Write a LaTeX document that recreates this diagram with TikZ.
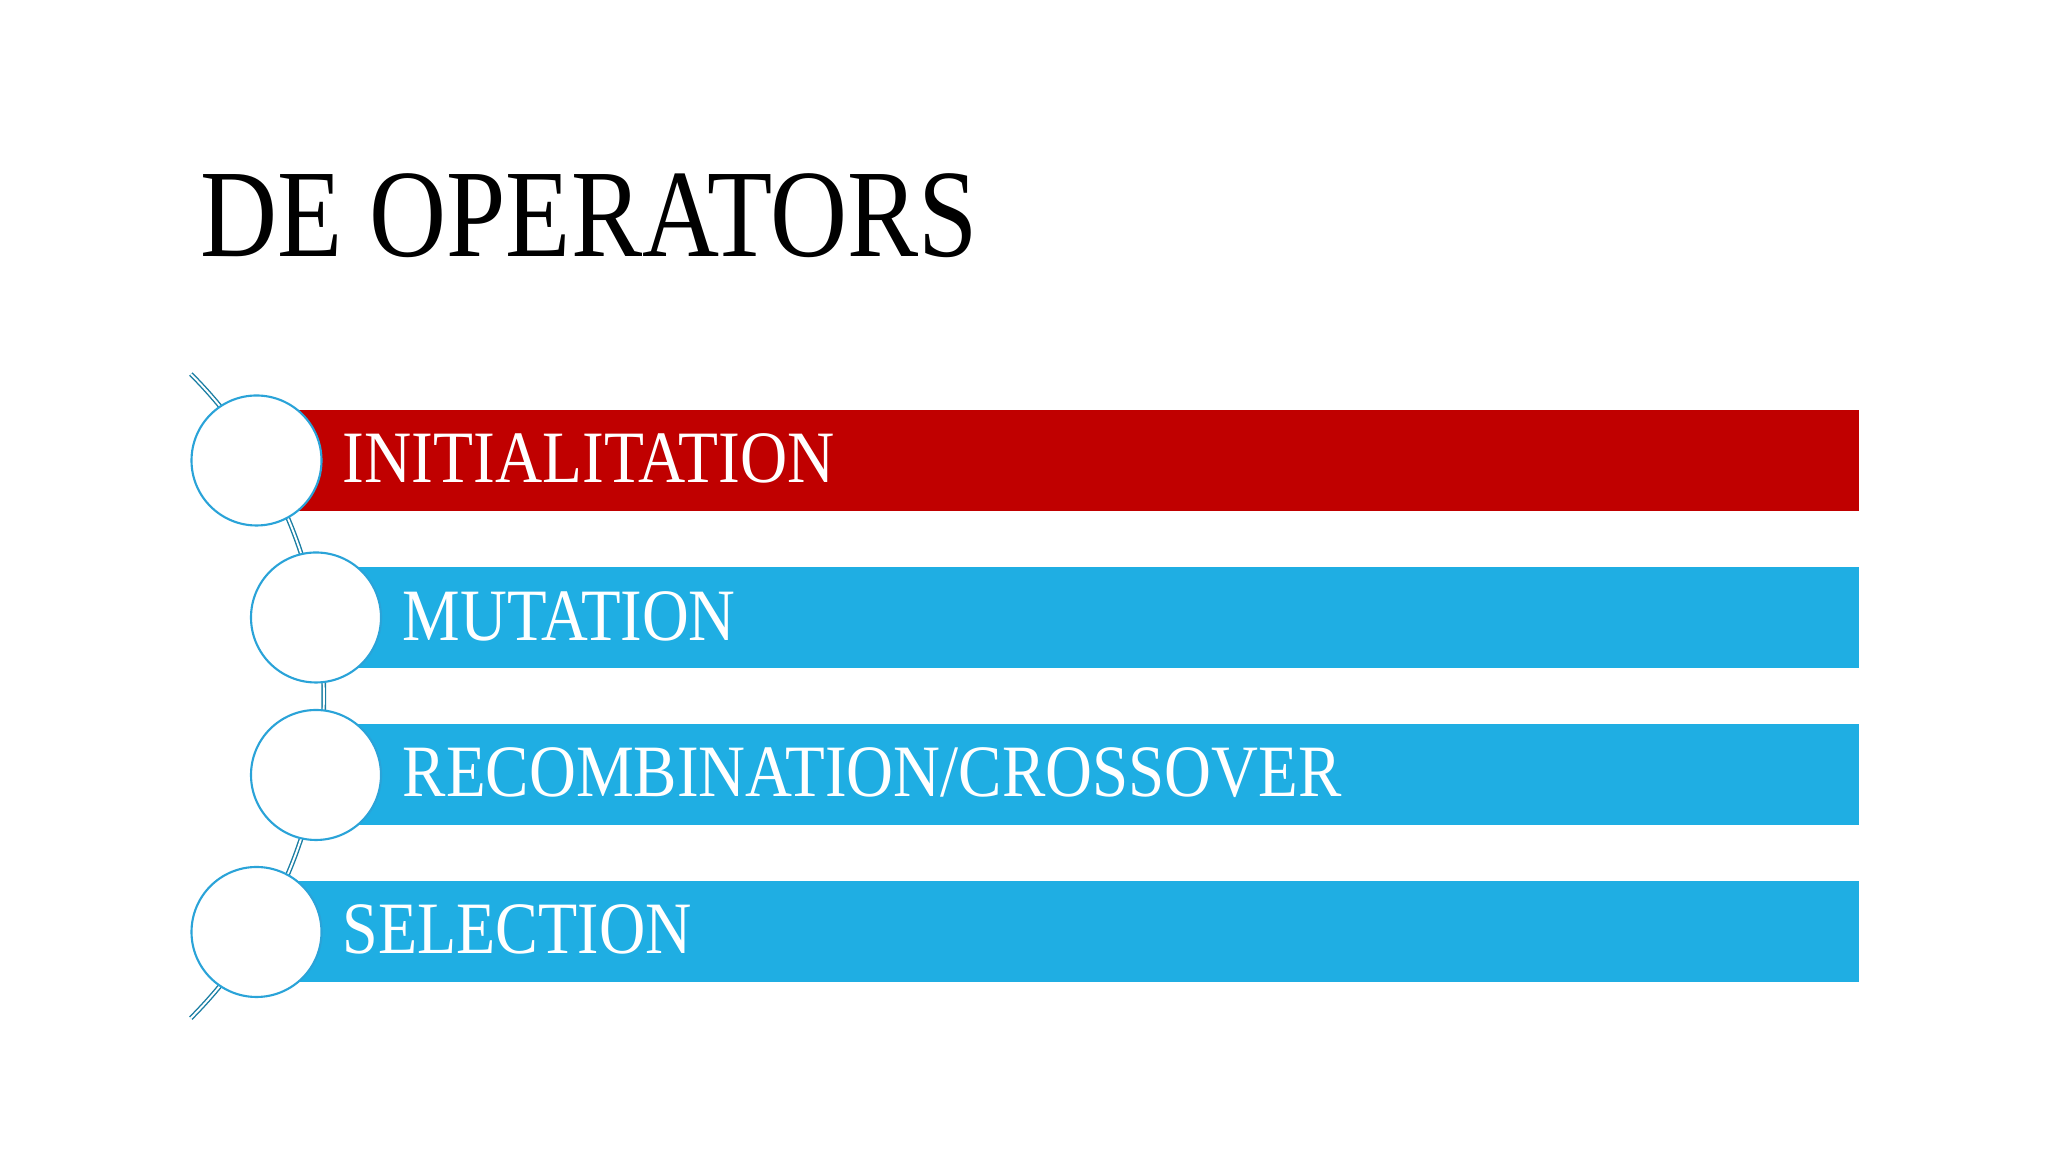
\documentclass[tikz,border=0pt]{standalone}
\usepackage{fontspec}
\setmainfont{Liberation Serif}
\definecolor{barred}{HTML}{C00000}
\definecolor{barblue}{HTML}{1FAEE3}
\definecolor{ringblue}{HTML}{2AA3D8}
\definecolor{linkblue}{HTML}{1A7EA3}
\begin{document}
\begin{tikzpicture}[x=0.01cm,y=0.01cm,
  bar/.style={rectangle, anchor=west, minimum height=101*0.01cm, inner sep=0pt, outer sep=0pt},
  ring/.style={circle, draw=ringblue, line width=0.6pt, fill=white, minimum size=130*0.01cm, inner sep=0pt},
  label/.style={anchor=base west, inner sep=0pt, text=white, font=\fontsize{21pt}{25pt}\selectfont},
  link/.style={draw=linkblue, line width=0.4pt, double=white, double distance=0.55pt}]
\useasboundingbox (0,0) rectangle (2048,1152);
% title
\node[anchor=base west, inner sep=0pt, font=\fontsize{35.6pt}{40pt}\selectfont] (title) at (200,895) {\scalebox{0.852}[1]{DE OPERATORS}};
% connector arc
\coordinate (top) at (190.8,778);
\coordinate (bot) at (190.8,134);
\draw[link] (top) arc[start angle=44.9, end angle=-44.9, radius=456.3];
% bars
\node[bar, fill=barred, minimum width=1603*0.01cm] (b1) at (256,691.5) {};
\node[bar, fill=barblue, minimum width=1543*0.01cm] (b2) at (316,534) {};
\node[bar, fill=barblue, minimum width=1543*0.01cm] (b3) at (316,377.5) {};
\node[bar, fill=barblue, minimum width=1603*0.01cm] (b4) at (256,220.5) {};
% circles
\node[ring] (c1) at (256.5,691.5) {};
\node[ring] (c2) at (316,534.5) {};
\node[ring] (c3) at (316,377) {};
\node[ring] (c4) at (256.5,220) {};
% labels
\node[label] (t1) at (342,669) {\scalebox{0.885}[1]{INITIALITATION}};
\node[label] (t2) at (402,511.5) {\scalebox{0.877}[1]{MUTATION}};
\node[label] (t3) at (402,355) {\scalebox{0.88}[1]{RECOMBINATION/CROSSOVER}};
\node[label] (t4) at (342,198) {\scalebox{0.868}[1]{SELECTION}};
\end{tikzpicture}
\end{document}
